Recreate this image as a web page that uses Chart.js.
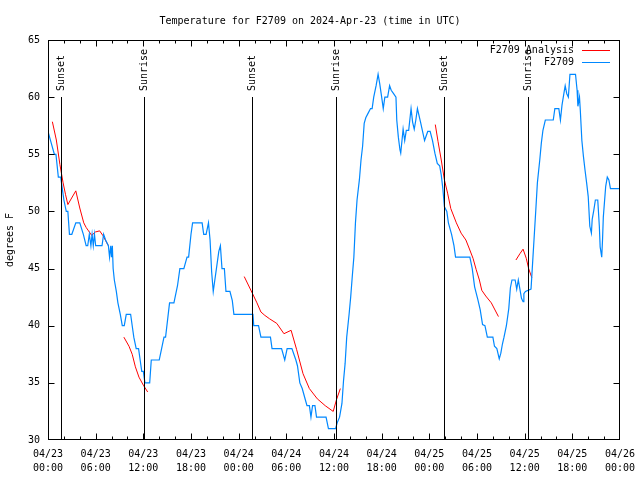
<!DOCTYPE html>
<html>
<head>
<meta charset="utf-8">
<title>Temperature for F2709</title>
<script src="https://cdn.jsdelivr.net/npm/chart.js@4/dist/chart.umd.min.js"></script>
<style>
  body { margin: 0; background: #fff; }
  canvas { display: block; background: #fff; }
</style>
</head>
<body>
<canvas id="chart" width="640" height="480"></canvas>
<script>
// hours since 04/23 00:00 UTC
const obsHours = [0,0.4,0.8,1.0,1.3,1.6,1.8,2.0,2.3,2.5,2.7,3.0,3.5,4.0,4.45,4.8,5.0,5.2,5.4,5.55,5.7,5.85,6.0,6.8,7.0,7.25,7.6,7.75,7.9,8.0,8.1,8.2,8.35,8.6,8.8,9.1,9.35,9.6,9.85,10.4,10.6,10.8,11.1,11.4,11.6,11.8,12.0,12.2,12.8,13.0,14.0,14.3,14.6,14.8,15.3,15.85,16.3,16.6,17.1,17.5,17.7,18.0,18.2,19.4,19.6,19.9,20.2,20.4,20.6,20.8,21.0,21.2,21.5,21.7,21.9,22.2,22.4,22.9,23.2,23.4,25.8,25.9,26.5,26.8,28.0,28.2,29.4,29.8,30.1,30.7,31.2,31.4,31.7,32.0,32.4,32.6,32.9,33.1,33.3,33.6,33.8,35.0,35.3,36.2,36.4,36.7,37.0,37.2,37.4,37.6,37.9,38.1,38.3,38.5,38.7,38.9,39.2,39.4,39.6,39.8,40.0,40.3,40.6,40.8,41.0,41.3,41.55,41.75,42.0,42.2,42.4,42.75,43.0,43.2,43.5,43.8,43.9,44.1,44.3,44.4,44.7,44.9,45.1,45.4,45.7,45.9,46.1,46.3,46.5,46.9,47.4,47.8,48.1,48.4,48.7,49.0,49.3,49.5,49.7,49.9,50.2,50.4,50.8,51.1,51.3,53.1,53.4,53.7,54.1,54.4,54.7,55.0,55.3,56.0,56.2,56.5,56.8,57.0,57.2,57.4,57.7,58.0,58.2,58.4,58.8,59.0,59.2,59.4,59.6,59.8,59.9,60.1,60.8,61.0,61.2,61.4,61.6,61.9,62.1,62.3,62.6,63.6,63.8,64.3,64.5,64.7,65.0,65.1,65.3,65.5,65.7,66.4,66.6,66.7,66.9,67.0,67.2,67.4,67.6,67.8,68.0,68.2,68.4,68.5,68.7,68.9,69.2,69.4,69.5,69.7,69.8,69.9,70.2,70.4,70.6,70.8,72];
const obsTemps = [57,56,55,55,53,53,52,51,50,50,48,48,49,49,48,47,47,48,47,48,47,48,47,47,48,47.5,47,46,47,46,47,45,44,43,42,41,40,40,41,41,40,39,38,38,37,36,36,35,35,37,37,38,39,39,42,42,43.5,45,45,46,46,48,49,49,48,48,49,47.5,44.7,43,44,45,46.5,47,45,45,43,43,42.2,41,41,40,40,39,39,38,38,37,38,38,37,36.5,35,34.5,33.5,33,33,32,33,33,32,32,31,31,31.5,32,33.2,35.2,36.7,39,41,42.5,44.3,46,49,51,52.8,54.5,55.7,57.7,58.2,58.6,59,59,60,61,62,61.2,60,59,60,60,61,60.6,60.3,60,58,56.5,55.4,55.1,57.2,56.2,57.1,57.1,59,57.8,57.2,58,59,57.8,56.2,57,57,56.2,55.1,54.2,54,53.2,52,50.4,50,49,48,47,46,46,45,43.4,42.3,41.4,40.1,40,39,39,38.2,38,37.1,37.6,38.4,39,40,41.5,43.3,44,44,43.2,44,43.2,42.4,42.1,42.8,43,43.2,45.5,47.8,50.1,52.5,54.5,56,57.1,58,58,59,59,58,59.3,60.6,61,60.3,60,62,62,60.6,59.2,60,58.9,56.2,54.8,53.6,52.5,51.3,48.7,48.1,49.3,50.1,51,51,48.7,46.9,46,47.5,49.5,52.2,53,52.75,52,52];

// analysis runs, null = gap between runs
const anaHours = [0.55,1.05,1.5,1.9,2.2,2.5,3.5,4.0,4.5,4.8,5.1,5.5,5.95,6.5,6.9,7.6, 8,
  9.55,10.2,10.6,11.0,11.45,12.0,12.55, 13,
  24.7,25.75,26.3,26.8,27.3,27.9,28.8,29.7,30.6,31.3,32.1,32.9,33.9,34.9,35.9,36.3,36.8, 37,
  48.75,49.1,49.5,49.9,50.3,50.7,51.4,52.0,52.6,53.0,53.5,53.9,54.3,54.6,55.1,55.8,56.4,56.7, 57,
  58.9,59.4,59.8,60.2,60.5,60.9];
const anaTemps = [57.85,56.25,54.1,52.5,51.5,50.6,51.8,50.3,49.0,48.6,48.3,47.9,48.2,48.3,47.9,47.0, null,
  39.0,38.2,37.5,36.4,35.5,34.8,34.2, null,
  44.3,42.8,42.0,41.2,40.9,40.6,40.2,39.3,39.6,37.9,35.8,34.5,33.6,33.0,32.5,33.5,34.5, null,
  57.6,56.1,54.5,52.75,51.6,50.25,49.0,48.1,47.5,46.8,45.9,44.9,44.0,43.1,42.6,42.0,41.2,40.8, null,
  45.75,46.3,46.7,45.9,45.0,44.2];

// sunrise / sunset markers (hours)
const sunHours  = [1.6, 12.1, 25.7, 36.2, 49.8, 60.4];
const sunLabels = ['Sunset', 'Sunrise', 'Sunset', 'Sunrise', 'Sunset', 'Sunrise'];
const sunLineTop = 60; // degrees, where the marker lines stop

const FONT = 'DejaVu Sans Mono';
const BLUE = '#0088ff';
const RED = '#ff0000';

// frame, inward ticks, sun markers, legend -- gnuplot look
const gnuplotBits = {
  id: 'gnuplotBits',
  afterDatasetsDraw(chart) {
    const { ctx, chartArea: a, scales: { x, y } } = chart;
    ctx.save();
    ctx.strokeStyle = '#000';
    ctx.lineWidth = 1;

    // sun lines + labels
    ctx.font = '10px ' + FONT;
    ctx.fillStyle = '#000';
    const yTop = Math.round(y.getPixelForValue(sunLineTop));
    sunHours.forEach((h, i) => {
      const px = Math.round(x.getPixelForValue(h)) + 0.5;
      ctx.beginPath();
      ctx.moveTo(px, yTop);
      ctx.lineTo(px, a.bottom);
      ctx.stroke();
      ctx.save();
      ctx.translate(px, yTop - 6);
      ctx.rotate(-Math.PI / 2);
      ctx.textAlign = 'left';
      ctx.textBaseline = 'middle';
      ctx.fillText(sunLabels[i], 0, 0);
      ctx.restore();
    });

    // frame
    const L = a.left + 0.5, R = a.right - 0.5, T = a.top + 0.5, B = a.bottom - 0.5;
    ctx.strokeRect(L, T, R - L, B - T);

    const clampX = v => Math.min(Math.max(v, L), R);
    ctx.beginPath();
    // x ticks: major every 6h, minor every 2h
    for (let h = x.min; h <= x.max; h += 2) {
      const px = clampX(Math.round(x.getPixelForValue(h)) + 0.5);
      const len = h % 6 === 0 ? 6 : 3;
      ctx.moveTo(px, B); ctx.lineTo(px, B - len);
      ctx.moveTo(px, T); ctx.lineTo(px, T + len);
    }
    // y ticks
    y.ticks.forEach(t => {
      const py = Math.min(Math.max(Math.round(y.getPixelForValue(t.value)) + 0.5, T), B);
      ctx.moveTo(L, py); ctx.lineTo(L + 6, py);
      ctx.moveTo(R, py); ctx.lineTo(R - 6, py);
    });
    ctx.stroke();

    // key, top right inside the plot
    const items = [['F2709 Analysis', RED], ['F2709', BLUE]];
    ctx.textAlign = 'right';
    ctx.textBaseline = 'middle';
    items.forEach(([txt, col], i) => {
      const ky = a.top + 10 + i * 12;
      ctx.fillStyle = '#000';
      ctx.fillText(txt, a.right - 46, ky);
      ctx.strokeStyle = col;
      ctx.beginPath();
      ctx.moveTo(a.right - 38, ky + 0.5);
      ctx.lineTo(a.right - 10, ky + 0.5);
      ctx.stroke();
    });
    ctx.restore();
  }
};

const pad2 = n => String(n).padStart(2, '0');

new Chart(document.getElementById('chart'), {
  type: 'line',
  data: {
    datasets: [
      {
        label: 'F2709',
        data: obsHours.map((h, i) => ({ x: h, y: obsTemps[i] })),
        borderColor: BLUE,
        borderWidth: 1.2,
        pointRadius: 0,
        tension: 0
      },
      {
        label: 'F2709 Analysis',
        data: anaHours.map((h, i) => ({ x: h, y: anaTemps[i] })),
        borderColor: RED,
        borderWidth: 1,
        pointRadius: 0,
        tension: 0,
        spanGaps: false
      }
    ]
  },
  options: {
    responsive: false,
    animation: false,
    layout: { padding: { left: 0, right: 20, top: 0, bottom: 0 } },
    plugins: {
      legend: { display: false },
      tooltip: { enabled: false },
      title: {
        display: true,
        text: 'Temperature for F2709 on 2024-Apr-23 (time in UTC)',
        color: '#000',
        font: { family: FONT, size: 10, weight: 'normal', lineHeight: 1.2 },
        padding: { top: 15, bottom: 13 }
      }
    },
    scales: {
      x: {
        type: 'linear',
        min: 0,
        max: 72,
        afterFit: s => { s.height = 40; },
        grid: { display: false },
        border: { display: false },
        ticks: {
          stepSize: 6,
          autoSkip: false,
          maxRotation: 0,
          padding: -1,
          color: '#000',
          font: { family: FONT, size: 10, lineHeight: 1.4 },
          callback: v => ['04/' + (23 + Math.floor(v / 24)), pad2(v % 24) + ':00']
        }
      },
      y: {
        min: 30,
        max: 65,
        afterFit: s => { s.width = 48; },
        grid: { display: false },
        border: { display: false },
        ticks: {
          stepSize: 5,
          padding: 0,
          color: '#000',
          font: { family: FONT, size: 10 }
        },
        title: {
          display: true,
          text: 'degrees F',
          color: '#000',
          font: { family: FONT, size: 10 },
          padding: { top: 4, bottom: 0 }
        }
      }
    }
  },
  plugins: [gnuplotBits]
});
</script>
</body>
</html>
